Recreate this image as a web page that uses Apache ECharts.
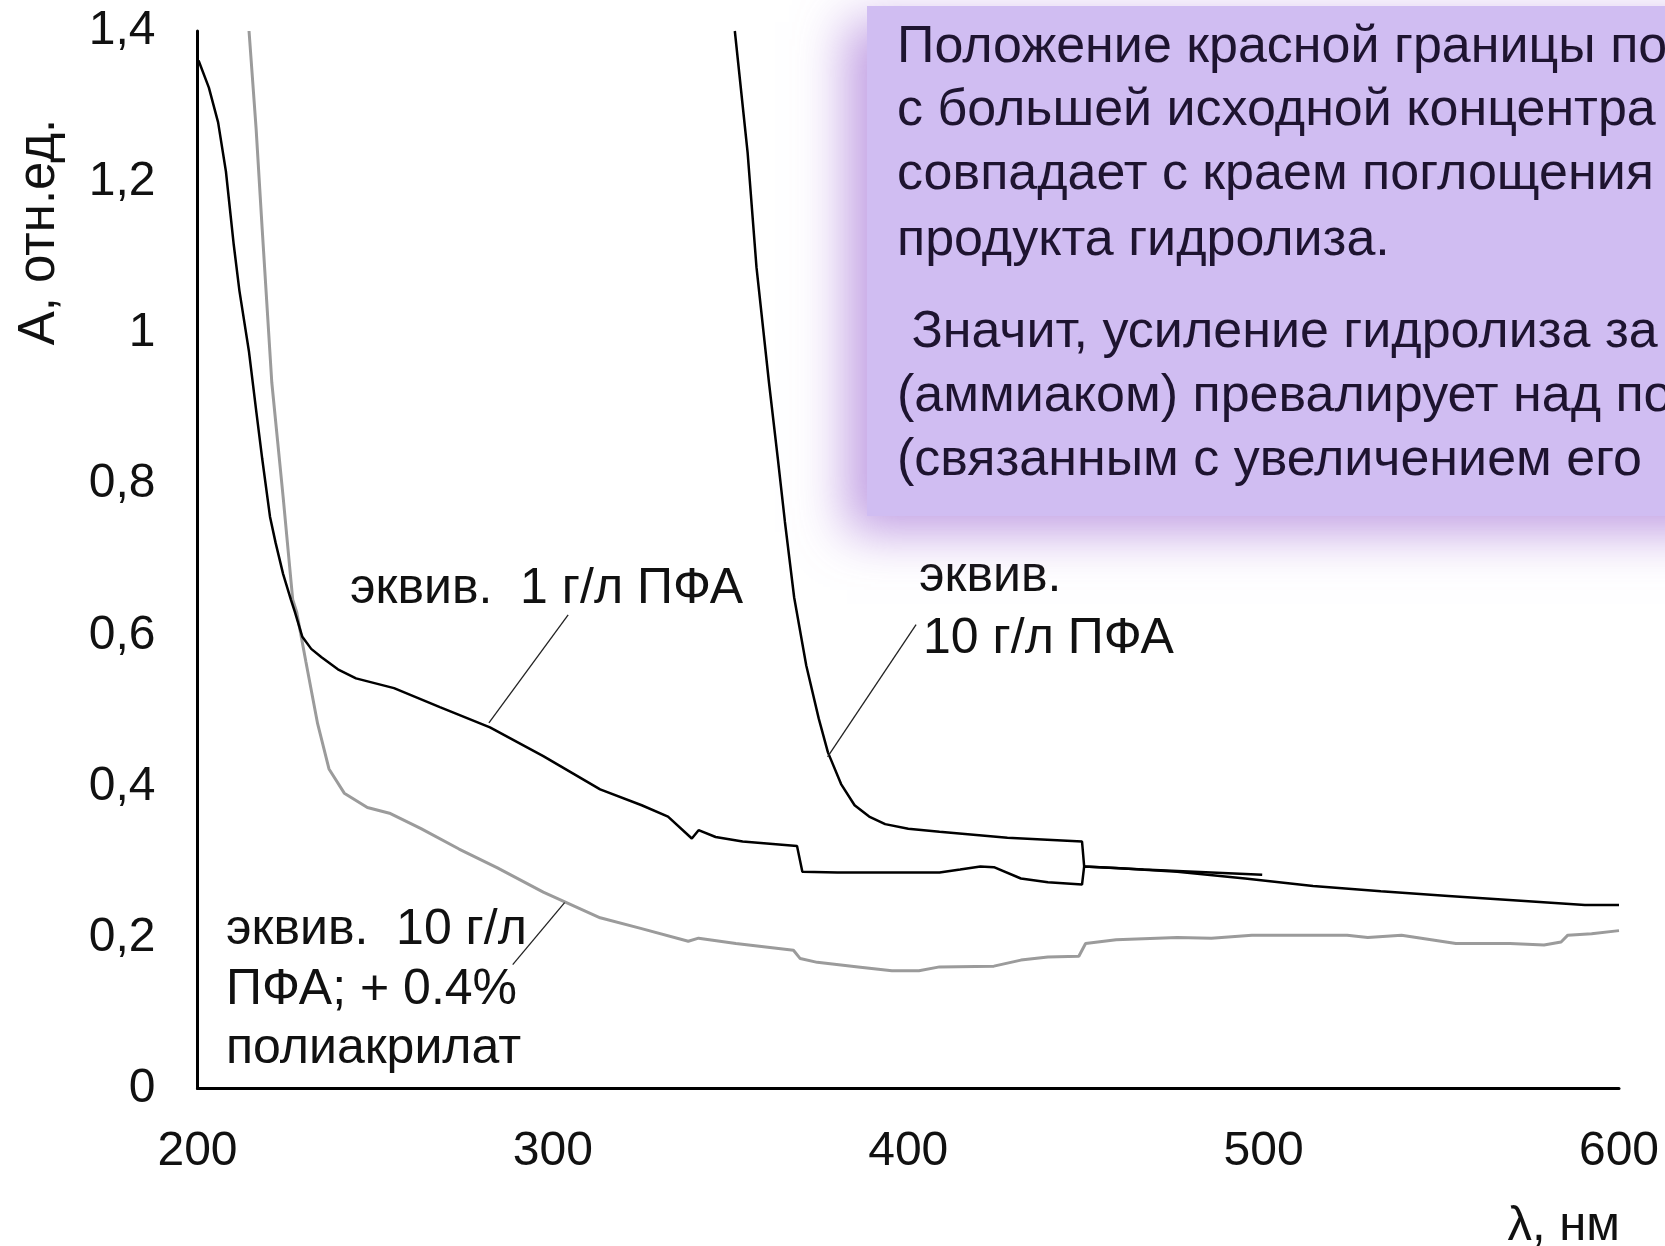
<!DOCTYPE html>
<html>
<head>
<meta charset="utf-8">
<script src="https://cdn.jsdelivr.net/npm/echarts@6/dist/echarts.min.js"></script>
<style>
html,body{margin:0;padding:0;background:#fff;}
#chart{width:1665px;height:1246px;}
</style>
</head>
<body>
<div id="chart"></div>
<script>
// ---- data (wavelength, nm ; absorbance, rel. units) ----
const xTickLabels = ['200', '300', '400', '500', '600'];
const yTickLabels = ['0', '0,2', '0,4', '0,6', '0,8', '1', '1,2', '1,4'];

const seriesNames = ['эквив. 1 г/л ПФА', 'эквив. 10 г/л ПФА', 'эквив. 10 г/л ПФА; + 0.4% полиакрилат'];

const curve1gL = [
  [200.3, 1.361], [203.2, 1.325], [205.8, 1.279], [208.0, 1.214], [210.2, 1.117],
  [211.8, 1.056], [214.5, 0.975], [216.6, 0.894], [218.2, 0.834], [220.4, 0.757],
  [222.0, 0.722], [224.1, 0.681], [226.3, 0.647], [227.4, 0.631], [229.5, 0.598],
  [232.0, 0.582], [234.9, 0.571], [239.5, 0.555], [244.6, 0.543], [255.3, 0.530],
  [268.2, 0.505], [282.3, 0.478], [297.3, 0.440], [313.3, 0.396], [325.0, 0.375],
  [332.4, 0.360], [339.1, 0.331], [341.0, 0.342], [345.8, 0.333], [353.4, 0.327],
  [368.7, 0.321], [370.2, 0.287], [380.1, 0.286], [408.8, 0.286], [414.6, 0.290],
  [420.3, 0.294], [424.1, 0.293], [431.7, 0.278], [439.3, 0.273], [448.9, 0.270],
  [449.5, 0.294], [466.2, 0.290], [485.3, 0.286], [499.6, 0.283]
];

const curve10gL = [
  [351.2, 1.400], [354.8, 1.239], [357.3, 1.087], [360.8, 0.935], [363.3, 0.834],
  [365.3, 0.750], [367.9, 0.650], [371.3, 0.560], [374.8, 0.490], [377.4, 0.445],
  [381.1, 0.403], [384.9, 0.375], [389.0, 0.360], [393.5, 0.350], [400.0, 0.344],
  [408.8, 0.340], [427.9, 0.332], [448.9, 0.327], [449.5, 0.294], [458.5, 0.292],
  [475.7, 0.287], [494.8, 0.278], [513.9, 0.268], [533.0, 0.261], [552.0, 0.255],
  [571.3, 0.249], [590.4, 0.243], [600.0, 0.243]
];

const curvePolyacrylate = [
  [214.5, 1.400], [216.5, 1.270], [218.2, 1.138], [220.9, 0.935], [224.1, 0.783],
  [226.8, 0.647], [227.9, 0.631], [230.5, 0.565], [233.8, 0.483], [237.0, 0.423],
  [241.3, 0.391], [247.8, 0.372], [254.3, 0.364], [262.9, 0.344], [273.6, 0.317],
  [284.4, 0.292], [297.3, 0.260], [313.3, 0.226], [324.7, 0.212], [338.1, 0.195],
  [341.0, 0.199], [351.5, 0.192], [367.7, 0.183], [369.6, 0.172], [374.4, 0.167],
  [385.9, 0.161], [395.4, 0.156], [403.0, 0.156], [408.8, 0.161], [424.1, 0.162],
  [431.7, 0.170], [439.3, 0.174], [448.0, 0.175], [449.9, 0.192], [458.5, 0.197],
  [475.7, 0.200], [485.3, 0.199], [496.7, 0.203], [523.5, 0.203], [529.3, 0.200],
  [538.8, 0.203], [554.1, 0.192], [569.3, 0.192], [578.9, 0.190], [583.7, 0.194],
  [585.6, 0.203], [592.3, 0.205], [600.0, 0.209]
];

// leader lines of the curve labels (data coordinates)
const leader1gL = [[304.3, 0.627], [282.0, 0.484]];
const leader10gL = [[402.2, 0.614], [377.3, 0.439]];
const leaderPoly = [[303.3, 0.246], [288.7, 0.164]];

const labelTexts = {
  l1: 'эквив.  1 г/л ПФА',
  l10a: 'эквив.',
  l10b: '10 г/л ПФА',
  lpa: 'эквив.  10 г/л',
  lpb: 'ПФА; + 0.4%',
  lpc: 'полиакрилат'
};
const axisNames = { x: 'λ, нм', y: 'A, отн.ед.' };
const noteLines = [
  'Положение красной границы по',
  'с большей исходной концентра',
  'совпадает с краем поглощения',
  'продукта гидролиза.',
  ' Значит, усиление гидролиза за',
  '(аммиаком) превалирует над по',
  '(связанным с увеличением его'
];

// ---- chart ----
const chart = echarts.init(document.getElementById('chart'), null, { renderer: 'canvas' });
const FONT = '"Liberation Sans", Arial, sans-serif';

function lineSeries(name, data, color, width, z) {
  return {
    name: name, type: 'line', data: data, showSymbol: false, symbol: 'none',
    smooth: false, silent: true, clip: true, z: z,
    lineStyle: { color: color, width: width }
  };
}

const noteSize = 52;
const noteBaselines = [66, 129, 193, 259, 351, 415, 479];
const noteGraphics = noteLines.map((t, i) => ({
  type: 'text', z: 102,
  style: {
    text: t, x: 897, y: noteBaselines[i] - 0.3465 * noteSize, verticalAlign: 'middle', align: 'left',
    font: noteSize + 'px ' + FONT, fill: '#1e1430'
  }
}));

function label(text, x, baseline, size) {
  return {
    type: 'text', z: 50,
    style: {
      text: text, x: x, y: baseline - 0.3465 * size, verticalAlign: 'middle', align: 'left',
      font: size + 'px ' + FONT, fill: '#111'
    }
  };
}

const option = {
  backgroundColor: '#ffffff',
  animation: false,
  grid: { left: 197.5, right: 46, top: 31, bottom: 157.5, containLabel: false },
  xAxis: {
    type: 'value', min: 200, max: 600, interval: 100,
    axisLine: { show: true, onZero: false, lineStyle: { color: '#000', width: 3 } },
    axisTick: { show: false }, splitLine: { show: false },
    axisLabel: {
      margin: 39, fontSize: 48, fontFamily: FONT, color: '#111',
      formatter: v => xTickLabels[Math.round((v - 200) / 100)]
    }
  },
  yAxis: {
    type: 'value', min: 0, max: 1.4, interval: 0.2,
    axisLine: { show: true, onZero: false, lineStyle: { color: '#000', width: 3 } },
    axisTick: { show: false }, splitLine: { show: false },
    axisLabel: {
      margin: 42, fontSize: 48, fontFamily: FONT, color: '#111',
      formatter: v => yTickLabels[Math.round(v / 0.2)]
    }
  },
  series: [
    lineSeries(seriesNames[2], curvePolyacrylate, '#9b9b9b', 3, 2),
    lineSeries(seriesNames[0], curve1gL, '#000000', 2.5, 3),
    lineSeries(seriesNames[1], curve10gL, '#000000', 2.5, 3),
    lineSeries('leader1', leader1gL, '#222', 1.3, 4),
    lineSeries('leader10', leader10gL, '#222', 1.3, 4),
    lineSeries('leaderPoly', leaderPoly, '#222', 1.3, 4)
  ],
  graphic: [
    {
      type: 'rect', z: 100,
      shape: { x: 867, y: 6, width: 900, height: 510 },
      style: {
        fill: '#d0bdf2',
        shadowBlur: 48, shadowColor: 'rgba(165,115,215,0.7)',
        shadowOffsetX: -20, shadowOffsetY: 16
      }
    },
    ...noteGraphics,
    label(labelTexts.l1, 350, 607, 50),
    label(labelTexts.l10a, 919, 595, 50),
    label(labelTexts.l10b, 923, 657, 50),
    label(labelTexts.lpa, 226, 948, 50),
    label(labelTexts.lpb, 226, 1008, 50),
    label(labelTexts.lpc, 226, 1067, 50),
    {
      type: 'text', z: 50,
      style: {
        text: axisNames.x, x: 1620, y: 1226, align: 'right', verticalAlign: 'middle',
        font: '49px ' + FONT, fill: '#111'
      }
    },
    {
      type: 'text', z: 50, x: 40, y: 232, rotation: Math.PI / 2,
      style: {
        text: axisNames.y, x: 0, y: 0, align: 'center', verticalAlign: 'middle',
        font: '51px ' + FONT, fill: '#111'
      }
    }
  ]
};
chart.setOption(option);
</script>
</body>
</html>
